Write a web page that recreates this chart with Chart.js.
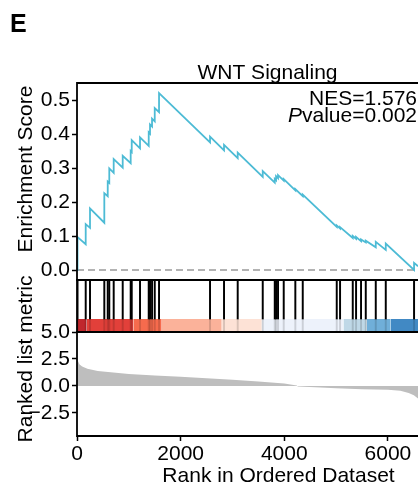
<!DOCTYPE html>
<html>
<head>
<meta charset="utf-8">
<script src="https://cdn.jsdelivr.net/npm/chart.js@4.4.0/dist/chart.umd.min.js"></script>
<style>
  html, body { margin: 0; padding: 0; background: #fff; overflow: hidden; }
  #wrap { position: relative; width: 418px; height: 486px; }
  canvas { position: absolute; left: 0; top: 0; }
</style>
</head>
<body>
<div id="wrap">
  <canvas id="esChart" width="418" height="486"></canvas>
  <canvas id="hitChart" width="418" height="486"></canvas>
  <canvas id="metricChart" width="418" height="486"></canvas>
</div>
<script>
// ---- data ----
var rankMax = 6580;

var esRank = [0, 10, 168, 168, 251, 251, 527, 527, 593, 593, 623, 623, 708, 708, 882, 882,
  1036, 1036, 1056, 1056, 1216, 1216, 1384, 1384, 1409, 1409, 1448, 1448, 1500, 1500, 1583, 1583,
  2567, 2567, 2837, 2837, 3101, 3101, 3584, 3584, 3816, 3816, 3841, 3841, 3879, 3879, 3989, 3989,
  4213, 4213, 4356, 4356, 5012, 5012, 5076, 5076, 5321, 5321, 5385, 5385, 5481, 5481, 5572, 5572,
  5765, 5765, 5958, 5958, 6504, 6504, 6580];
var esScore = [0, 0.097, 0.076, 0.135, 0.124, 0.181, 0.139, 0.226, 0.217, 0.26, 0.256, 0.299, 0.286, 0.326, 0.301, 0.336,
  0.314, 0.35, 0.347, 0.382, 0.358, 0.39, 0.365, 0.405, 0.401, 0.428, 0.422, 0.445, 0.437, 0.476, 0.464, 0.52,
  0.375, 0.392, 0.352, 0.368, 0.329, 0.345, 0.274, 0.291, 0.257, 0.268, 0.264, 0.276, 0.27, 0.279, 0.263, 0.267,
  0.234, 0.238, 0.217, 0.222, 0.127, 0.131, 0.122, 0.126, 0.094, 0.1, 0.092, 0.097, 0.085, 0.09, 0.081, 0.086,
  0.067, 0.083, 0.059, 0.078, 0.0, 0.021, 0.011];

var hitRank = [10, 168, 251, 527, 593, 623, 708, 882, 1036, 1056, 1216, 1384, 1409, 1448, 1500, 1583,
  2567, 2837, 3101, 3584, 3816, 3841, 3879, 3989, 4213, 4356, 5012, 5076, 5321, 5385, 5481, 5572,
  5765, 5958, 6504];

var metricRank  = [0, 20, 50, 100, 200, 400, 700, 1000, 1500, 2000, 2500, 3000, 3500, 4000, 4240, 4260,
  4600, 5000, 5500, 6000, 6240, 6400, 6500, 6580];
var metricValue = [2.6, 2.3, 2.0, 1.8, 1.6, 1.4, 1.25, 1.12, 0.98, 0.85, 0.72, 0.58, 0.42, 0.22, 0.05, -0.05,
  -0.12, -0.2, -0.3, -0.35, -0.45, -0.65, -0.85, -1.15];

var bandEdges  = [0, 187, 1087, 1635, 2793, 3565, 5140, 5591, 6054, 6580];
var bandColors = ['#C0272D', '#E2403A', '#F66B4D', '#FBB29A', '#FDE2D6', '#EDF2FB', '#BFD8E7', '#70AFD9', '#4189C4'];

var esTicks = [0, 0.1, 0.2, 0.3, 0.4, 0.5];
var metricTicks = [-2.5, 0, 2.5, 5];
var rankTicks = [0, 2000, 4000, 6000];

var titleText = 'WNT Signaling';
var nesText = 'NES=1.576';
var pvalText = 'value=0.002';

// ---- common setup ----
var FONT = "'Liberation Sans', Arial, sans-serif";
Chart.defaults.font.family = FONT;
Chart.defaults.font.size = 21;
Chart.defaults.color = '#000';

var AXIS_W = 77;

function pts(xs, ys) {
  return xs.map(function(x, i) { return { x: x, y: ys[i] }; });
}

var frame = {
  id: 'frame',
  afterDraw: function(chart) {
    var a = chart.chartArea, c = chart.ctx;
    c.save();
    c.strokeStyle = '#000';
    c.lineWidth = 1.8;
    c.beginPath();
    c.moveTo(a.right + 5, a.top);
    c.lineTo(a.left, a.top);
    c.lineTo(a.left, a.bottom);
    c.lineTo(a.right + 5, a.bottom);
    c.stroke();
    c.restore();
  }
};

function baseOpts(padding) {
  return {
    responsive: false,
    animation: false,
    devicePixelRatio: 1,
    events: [],
    layout: { padding: padding },
    plugins: { legend: { display: false }, tooltip: { enabled: false } }
  };
}

function yAxis(min, max, tickList) {
  return {
    type: 'linear', min: min, max: max,
    afterFit: function(s) { s.width = AXIS_W; },
    afterBuildTicks: function(s) { s.ticks = tickList.map(function(v) { return { value: v }; }); },
    ticks: { padding: 2, callback: function(v) { return v.toFixed(1).replace('-', '\u2212'); } },
    grid: { drawOnChartArea: false, tickLength: 5, tickWidth: 1.5, tickColor: '#000' },
    border: { display: false }
  };
}

// ---- top: running enrichment score ----
var o1 = baseOpts({ top: 83, bottom: 206, left: 0, right: 0 });
o1.scales = {
  x: { type: 'linear', min: 0, max: rankMax, display: false },
  y: yAxis(-0.0294, 0.55, esTicks)
};
new Chart(document.getElementById('esChart').getContext('2d'), {
  type: 'line',
  data: {
    datasets: [{
      data: pts(esRank, esScore),
      borderColor: '#4DBBD5',
      borderWidth: 1.8,
      pointRadius: 0,
      tension: 0,
      fill: false
    }, {
      data: [{ x: 0, y: 0 }, { x: rankMax, y: 0 }],
      borderColor: '#9a9a9a',
      borderWidth: 1.5,
      borderDash: [7, 4],
      pointRadius: 0,
      fill: false
    }]
  },
  options: o1,
  plugins: [frame]
});

// ---- middle: hit barcode and colour band ----
var o2 = baseOpts({ top: 280, bottom: 154, left: AXIS_W, right: 0 });
o2.scales = {
  x: { type: 'linear', min: 0, max: rankMax, offset: false, display: false },
  y: { type: 'linear', min: 0, max: 1, display: false }
};
var hitSets = [{
  type: 'bar',
  data: hitRank.map(function(r) { return { x: r, y: [0.25, 1] }; }),
  backgroundColor: '#000',
  barThickness: 1.3,
  grouped: false
}, {
  type: 'bar',
  data: hitRank.map(function(r) { return { x: r, y: [0, 0.25] }; }),
  backgroundColor: 'rgba(0,0,0,0.14)',
  barThickness: 1.3,
  grouped: false
}];
bandColors.forEach(function(col, i) {
  hitSets.push({
    type: 'line',
    data: [{ x: bandEdges[i], y: 0.25 }, { x: bandEdges[i + 1], y: 0.25 }],
    borderColor: 'rgba(0,0,0,0)',
    borderWidth: 0,
    pointRadius: 0,
    backgroundColor: col,
    fill: { value: 0 }
  });
});
new Chart(document.getElementById('hitChart').getContext('2d'), {
  type: 'bar',
  data: { datasets: hitSets },
  options: o2,
  plugins: [frame]
});

// ---- bottom: ranked list metric + all free text ----
var labels = {
  id: 'labels',
  afterDraw: function(chart) {
    var c = chart.ctx;
    c.save();
    c.fillStyle = '#000';
    c.textBaseline = 'alphabetic';

    c.font = 'bold 25px ' + FONT;
    c.textAlign = 'left';
    c.fillText('E', 10, 32);

    c.font = '21px ' + FONT;
    c.textAlign = 'center';
    c.fillText(titleText, 267.5, 79);
    c.fillText('Rank in Ordered Dataset', 278.5, 482);

    c.textAlign = 'right';
    c.fillText(nesText, 417, 105);
    var w2 = c.measureText(pvalText).width;
    c.fillText(pvalText, 417, 122);
    c.font = 'italic 21px ' + FONT;
    c.fillText('P', 417 - w2, 122);

    c.font = '21px ' + FONT;
    c.textAlign = 'center';
    c.save();
    c.translate(32, 169);
    c.rotate(-Math.PI / 2);
    c.fillText('Enrichment Score', 0, 0);
    c.restore();
    c.save();
    c.translate(32, 359);
    c.rotate(-Math.PI / 2);
    c.fillText('Ranked list metric', 0, 0);
    c.restore();
    c.restore();
  }
};

var o3 = baseOpts({ top: 332, bottom: 0, left: 0, right: 0 });
o3.scales = {
  x: {
    type: 'linear', min: 0, max: rankMax,
    afterFit: function(s) { s.height = 50; },
    afterBuildTicks: function(s) { s.ticks = rankTicks.map(function(v) { return { value: v }; }); },
    ticks: { padding: 1, maxRotation: 0, autoSkip: false, callback: function(v) { return String(v); } },
    grid: { drawOnChartArea: false, tickLength: 5, tickWidth: 1.5, tickColor: '#000' },
    border: { display: false }
  },
  y: yAxis(-4.63, 5.0, metricTicks)
};
new Chart(document.getElementById('metricChart').getContext('2d'), {
  type: 'line',
  data: {
    datasets: [{
      data: pts(metricRank, metricValue),
      borderColor: 'rgba(0,0,0,0)',
      borderWidth: 0,
      pointRadius: 0,
      backgroundColor: '#BEBEBE',
      fill: 'origin'
    }]
  },
  options: o3,
  plugins: [frame, labels]
});
</script>
</body>
</html>
